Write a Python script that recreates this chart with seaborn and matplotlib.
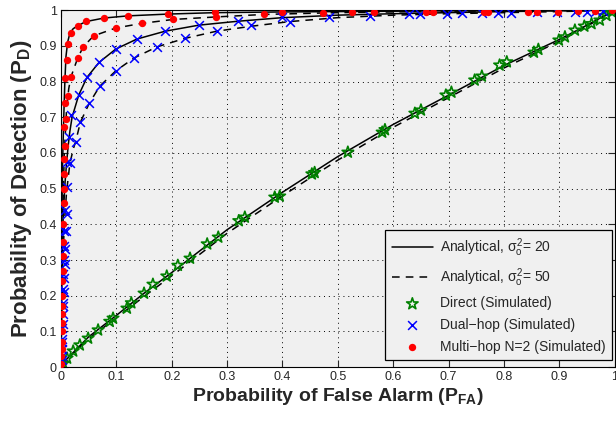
import numpy as np
import matplotlib
matplotlib.use('Agg')
import matplotlib.pyplot as plt
import seaborn as sns

# --------------------------
# Data
# --------------------------
# Direct link, analytical
direct_x = [0, 0.01, 0.05, 0.1, 0.15, 0.2, 0.3, 0.4, 0.5, 0.6, 0.7, 0.8, 0.9, 0.95, 1.0]
direct_y20 = [0, 0.022, 0.085, 0.145, 0.207, 0.265, 0.385, 0.49, 0.59, 0.68, 0.762, 0.845, 0.918, 0.958, 1.0]
direct_y50 = [0, 0.02, 0.08, 0.138, 0.198, 0.256, 0.375, 0.48, 0.58, 0.672, 0.755, 0.838, 0.913, 0.955, 1.0]

# Dual-hop, analytical
dual_x20 = [0, 0.001, 0.002, 0.004, 0.007, 0.010, 0.013, 0.016, 0.020, 0.032, 0.047, 0.069, 0.099,
            0.137, 0.188, 0.249, 0.32, 0.4, 0.5, 0.6, 0.7, 0.8, 0.9, 1.0]
dual_y20 = [0, 0.15, 0.3, 0.42, 0.51, 0.57, 0.62, 0.66, 0.70, 0.762, 0.812, 0.854, 0.891,
            0.919, 0.941, 0.958, 0.969, 0.979, 0.986, 0.99, 0.993, 0.996, 0.998, 1.0]
dual_x50 = [0, 0.001, 0.003, 0.006, 0.010, 0.016, 0.022, 0.027, 0.035, 0.051, 0.07, 0.099, 0.132,
            0.173, 0.224, 0.281, 0.344, 0.413, 0.5, 0.6, 0.7, 0.8, 0.9, 1.0]
dual_y50 = [0, 0.12, 0.28, 0.4, 0.49, 0.57, 0.61, 0.635, 0.686, 0.739, 0.787, 0.83, 0.866,
            0.897, 0.921, 0.941, 0.955, 0.968, 0.979, 0.986, 0.99, 0.993, 0.996, 1.0]

# Multi-hop N=2, analytical
multi_x20 = [0, 0.001, 0.002, 0.003, 0.005, 0.007, 0.009, 0.012, 0.016, 0.022, 0.031, 0.045,
             0.078, 0.121, 0.193, 0.278, 0.4, 0.6, 0.8, 1.0]
multi_y20 = [0, 0.3, 0.48, 0.58, 0.7, 0.8, 0.87, 0.91, 0.935, 0.948, 0.957, 0.968,
             0.978, 0.984, 0.989, 0.993, 0.995, 0.997, 0.999, 1.0]
multi_x50 = [0, 0.001, 0.003, 0.006, 0.010, 0.014, 0.018, 0.03, 0.04, 0.059, 0.099, 0.146,
             0.203, 0.28, 0.367, 0.5, 0.7, 1.0]
multi_y50 = [0, 0.2, 0.42, 0.6, 0.72, 0.78, 0.813, 0.865, 0.897, 0.928, 0.95, 0.963,
             0.974, 0.981, 0.988, 0.993, 0.997, 1.0]

# Simulated points
direct_sim_x = [0.004, 0.011, 0.022, 0.034, 0.049, 0.067, 0.088, 0.094, 0.119, 0.127, 0.150, 0.166,
                0.191, 0.211, 0.233, 0.264, 0.284, 0.321, 0.332, 0.386, 0.395, 0.453, 0.458, 0.518,
                0.580, 0.585, 0.639, 0.650, 0.695, 0.705, 0.747, 0.760, 0.792, 0.805, 0.854, 0.862,
                0.899, 0.910, 0.928, 0.945, 0.958, 0.973, 0.985, 0.995]
direct_sim_y = [0.010, 0.025, 0.045, 0.062, 0.081, 0.104, 0.128, 0.137, 0.165, 0.180, 0.207, 0.232,
                0.255, 0.285, 0.305, 0.345, 0.364, 0.410, 0.420, 0.476, 0.479, 0.541, 0.545, 0.602,
                0.658, 0.665, 0.711, 0.720, 0.762, 0.770, 0.804, 0.815, 0.846, 0.855, 0.882, 0.890,
                0.916, 0.925, 0.944, 0.955, 0.962, 0.972, 0.985, 0.995]

dual_sim_x = [0.001, 0.001, 0.002, 0.002, 0.003, 0.003, 0.004, 0.004, 0.005, 0.006, 0.006, 0.007,
              0.011, 0.010, 0.015, 0.018, 0.032, 0.047, 0.069, 0.099, 0.137, 0.188, 0.249, 0.32,
              0.399, 0.628, 0.648, 0.724, 0.79, 0.859, 0.928, 0.967,
              0.001, 0.002, 0.003, 0.004, 0.005, 0.006, 0.007, 0.008, 0.009, 0.010, 0.016, 0.027,
              0.035, 0.051, 0.07, 0.099, 0.132, 0.173, 0.224, 0.281, 0.344, 0.413, 0.484, 0.558,
              0.697, 0.76, 0.812, 0.895, 0.949, 0.978]
dual_sim_y = [0.02, 0.05, 0.08, 0.11, 0.15, 0.18, 0.22, 0.26, 0.30, 0.34, 0.38, 0.44,
              0.505, 0.575, 0.645, 0.706, 0.762, 0.812, 0.854, 0.891, 0.919, 0.941, 0.958, 0.969,
              0.98, 0.989, 0.989, 0.992, 0.992, 0.994, 0.994, 0.997,
              0.03, 0.07, 0.12, 0.17, 0.21, 0.25, 0.29, 0.33, 0.38, 0.43, 0.571, 0.63,
              0.686, 0.739, 0.787, 0.83, 0.866, 0.897, 0.921, 0.941, 0.958, 0.966, 0.98, 0.983,
              0.989, 0.992, 0.992, 0.994, 0.994, 0.997]

multi_sim_x = [0.0, 0.0, 0.001, 0.001, 0.001, 0.001, 0.001, 0.002, 0.002, 0.002, 0.003, 0.003,
               0.004, 0.004, 0.005, 0.005, 0.006, 0.006, 0.007, 0.006, 0.009, 0.007, 0.013, 0.008,
               0.010, 0.013, 0.018, 0.031, 0.045, 0.078, 0.121, 0.193, 0.278, 0.399, 0.473, 0.525,
               0.565, 0.659, 0.671, 0.764, 0.843, 0.897, 0.933, 0.964, 0.995,
               0.018, 0.03, 0.04, 0.059, 0.099, 0.146, 0.203, 0.28, 0.367, 0.771, 0.859]
multi_sim_y = [0.01, 0.03, 0.05, 0.07, 0.10, 0.125, 0.15, 0.17, 0.20, 0.24, 0.27, 0.31,
               0.35, 0.40, 0.46, 0.50, 0.54, 0.582, 0.619, 0.673, 0.694, 0.74, 0.76, 0.81,
               0.86, 0.904, 0.936, 0.955, 0.969, 0.978, 0.983, 0.989, 0.994, 0.995, 0.992, 0.994,
               0.994, 0.994, 0.994, 0.994, 0.995, 0.996, 0.997, 0.998, 1.0,
               0.813, 0.865, 0.897, 0.928, 0.95, 0.963, 0.974, 0.981, 0.988, 0.994, 0.994]

ticks = [0, 0.1, 0.2, 0.3, 0.4, 0.5, 0.6, 0.7, 0.8, 0.9, 1]
tick_labels = ['0', '0.1', '0.2', '0.3', '0.4', '0.5', '0.6', '0.7', '0.8', '0.9', '1']

# --------------------------
# Style
# --------------------------
sns.set_style('ticks', rc={
    'axes.facecolor': '#f0f0f0',
    'axes.edgecolor': 'black',
    'axes.linewidth': 1.0,
    'xtick.direction': 'in',
    'ytick.direction': 'in',
    'xtick.top': True,
    'ytick.right': True,
})
plt.rcParams['font.family'] = ['Liberation Sans', 'DejaVu Sans']
plt.rcParams['mathtext.fontset'] = 'custom'
plt.rcParams['mathtext.rm'] = 'Liberation Sans'
plt.rcParams['mathtext.it'] = 'Liberation Sans'
plt.rcParams['mathtext.bf'] = 'Liberation Sans:bold'

fig = plt.figure(figsize=(6.16, 4.23), dpi=100)
ax = fig.add_axes([0.099, 0.132, 0.899, 0.844])

# --------------------------
# Analytical curves
# --------------------------
lw = 1.1
sns.lineplot(x=direct_x, y=direct_y20, color='k', lw=lw, sort=False, estimator=None, ax=ax,
             label=r'Analytical, $\sigma_o^2$= 20')
sns.lineplot(x=direct_x, y=direct_y50, color='k', lw=lw, ls=(0, (5, 4)), sort=False,
             estimator=None, ax=ax, label=r'Analytical, $\sigma_o^2$= 50')
sns.lineplot(x=dual_x20, y=dual_y20, color='k', lw=lw, sort=False, estimator=None, ax=ax)
sns.lineplot(x=dual_x50, y=dual_y50, color='k', lw=lw, ls=(0, (5, 4)), sort=False,
             estimator=None, ax=ax)
sns.lineplot(x=multi_x20, y=multi_y20, color='k', lw=lw, sort=False, estimator=None, ax=ax)
sns.lineplot(x=multi_x50, y=multi_y50, color='k', lw=lw, ls=(0, (5, 4)), sort=False,
             estimator=None, ax=ax)

# --------------------------
# Simulated points
# --------------------------
sns.scatterplot(x=direct_sim_x, y=direct_sim_y, marker='*', s=75, facecolors='none',
                edgecolors='#008000', linewidths=1.2, ax=ax, label='Direct (Simulated)', zorder=3)
sns.scatterplot(x=dual_sim_x, y=dual_sim_y, marker='x', s=40, color='blue',
                linewidths=1.1, ax=ax, label='Dual\u2212hop (Simulated)', zorder=4)
sns.scatterplot(x=multi_sim_x, y=multi_sim_y, marker='o', s=28, color='red',
                edgecolor='red', linewidth=0, ax=ax, label='Multi\u2212hop N=2 (Simulated)', zorder=5)

# --------------------------
# Axes
# --------------------------
ax.set_xlim(0, 1)
ax.set_ylim(0, 1)
ax.set_xticks(ticks)
ax.set_xticklabels(tick_labels)
ax.set_yticks(ticks)
ax.set_yticklabels(tick_labels)
ax.tick_params(labelsize=9, length=5, width=0.8, pad=3)
ax.grid(True, color='black', ls=(0, (1, 4)), lw=0.7)
ax.set_xlabel(r'Probability of False Alarm (P$_\mathbf{FA}$)', fontsize=14, fontweight='bold',
              labelpad=2)
ax.set_ylabel(r'Probability of Detection (P$_\mathbf{D}$)', fontsize=16, fontweight='bold',
              labelpad=4)

handles, labels = ax.get_legend_handles_labels()
leg = ax.legend(handles, labels, loc='lower right', bbox_to_anchor=(0.995, 0.02),
                borderaxespad=0, fontsize=10, fancybox=False, framealpha=1,
                edgecolor='black', handlelength=3, handletextpad=0.5, labelspacing=0.55,
                borderpad=0.45)
leg.get_frame().set_linewidth(0.9)

plt.savefig('out.png', dpi=100)
